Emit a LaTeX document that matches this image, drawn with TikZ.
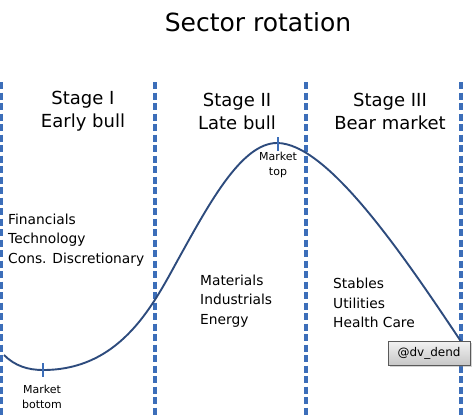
\documentclass[tikz,border=0pt]{standalone}
\usepackage{fontspec}
\setmainfont{DejaVu Sans}
\usetikzlibrary{shadows}
\definecolor{dashblue}{RGB}{60,110,185}
\definecolor{curveblue}{RGB}{45,75,125}
\definecolor{boxborder}{RGB}{90,90,90}
\tikzset{
  stagediv/.style={dashblue, line width=3.2pt, dash pattern=on 7pt off 3.5pt},
  curve/.style={curveblue, line width=1.9pt},
  tickmark/.style={dashblue, line width=1.6pt},
  stagelabel/.style={align=center, font=\fontsize{18}{23}\selectfont, inner sep=0pt},
  sectors/.style={align=left, anchor=west, font=\fontsize{13.8}{19.2}\selectfont, inner sep=0pt},
  marklabel/.style={align=center, font=\fontsize{11}{14.5}\selectfont, inner sep=0pt},
  handle/.style={draw=boxborder, line width=0.6pt, top color=white!95!black, bottom color=black!22,
    minimum width=82pt, minimum height=24pt, font=\fontsize{12}{14}\selectfont,
    drop shadow={opacity=0.35, shadow xshift=1.5pt, shadow yshift=-1.5pt}},
}
\begin{document}
\begin{tikzpicture}[x=1pt,y=-1pt]
\useasboundingbox (0,0) rectangle (474,418);
% title
\node[font=\fontsize{25}{29}\selectfont, inner sep=0pt] (title) at (258,22) {Sector rotation};
% stage dividers
\coordinate (d1t) at (1.5,82); \coordinate (d1b) at (1.5,418);
\coordinate (d2t) at (155,82); \coordinate (d2b) at (155,418);
\coordinate (d3t) at (306,82); \coordinate (d3b) at (306,418);
\coordinate (d4t) at (461,82); \coordinate (d4b) at (461,418);
\draw[stagediv] (d1t) -- (d1b);
\draw[stagediv] (d2t) -- (d2b);
\draw[stagediv] (d3t) -- (d3b);
\draw[stagediv] (d4t) -- (d4b);
% stage labels
\node[stagelabel] (s1) at (83,111) {Stage I\\Early bull};
\node[stagelabel] (s2) at (237,111) {Stage II\\Late bull};
\node[stagelabel] (s3) at (390,111) {Stage III\\Bear market};
% curve
\draw[curve] (4,355) .. controls (15,366) and (28,370) .. (43,370)
  .. controls (123,370) and (155,301) .. (180,256)
  .. controls (210,202) and (242,143) .. (277,143)
  .. controls (327,143) and (402,253) .. (462,343);
% ticks
\coordinate (bt) at (43,363); \coordinate (bb) at (43,377);
\coordinate (tt) at (278,137); \coordinate (tb) at (278,151);
\draw[tickmark] (bt) -- (bb);
\draw[tickmark] (tt) -- (tb);
\node[marklabel] (mb) at (42,397) {Market\\bottom};
\node[marklabel] (mt) at (278,165) {Market\\top};
% sector lists
\node[sectors] (l1) at (8,240) {Financials\\Technology\\Cons. Discretionary};
\node[sectors] (l2) at (200,301) {Materials\\Industrials\\Energy};
\node[sectors] (l3) at (333,303) {Stables\\Utilities\\Health Care};
% handle box
\node[handle] (h) at (429,353) {@dv\_dend};
\end{tikzpicture}
\end{document}
